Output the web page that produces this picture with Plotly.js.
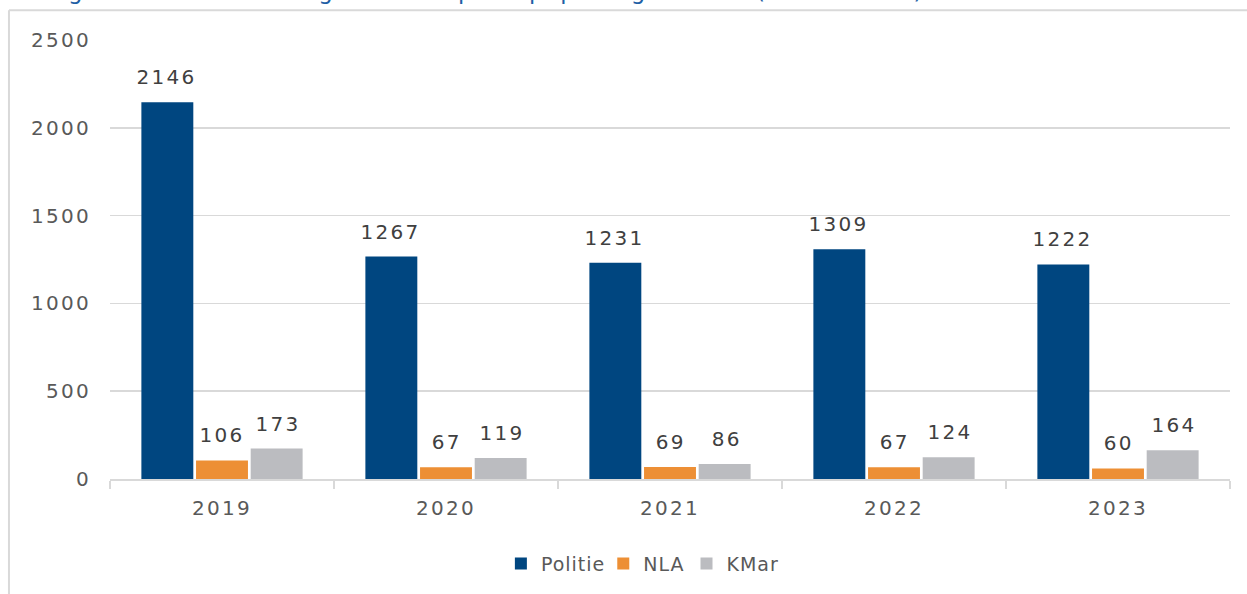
<!DOCTYPE html>
<html>
<head>
<meta charset="utf-8">
<script src="https://cdn.plot.ly/plotly-3.0.1.min.js"></script>
<style>
  html, body { margin: 0; padding: 0; background: #fff; }
  #chart { width: 1247px; height: 594px; }
  .main-svg .xtick text, .main-svg .ytick text, .main-svg .annotation-text { letter-spacing: 2.3px; }
  .main-svg .legendtext { letter-spacing: 1px; }
</style>
</head>
<body>
<div id="chart"></div>
<script>
const years = ["2019", "2020", "2021", "2022", "2023"];
const politie = [2146, 1267, 1231, 1309, 1222];
const nla = [106, 67, 69, 67, 60];
const kmar = [173, 119, 86, 124, 164];
const seriesNames = ["Politie", "NLA", "KMar"];
const seriesColors = ["#004680", "#ED8F35", "#BBBCC0"];
const titleText = "Figuur 3.2 Aantal registraties per opsporingsdienst (2019-2023)";

const allSeries = [politie, nla, kmar];
const font = "DejaVu Sans, Open Sans, sans-serif";

const traces = allSeries.map((vals, i) => ({
  type: "bar",
  name: seriesNames[i],
  x: years,
  y: vals,
  marker: { color: seriesColors[i] },
  hoverinfo: "x+y+name"
}));

const annotations = [];
allSeries.forEach((vals, i) => {
  vals.forEach((v, j) => {
    annotations.push({
      x: j, y: v, xref: "x", yref: "y",
      text: String(v), showarrow: false,
      xshift: (i - 1) * 56, yanchor: "bottom", yshift: 11,
      font: { family: font, size: 20, color: "#404040" }
    });
  });
});
annotations.push({
  xref: "paper", yref: "paper", x: 0.335, y: 1.112,
  xanchor: "center", yanchor: "middle",
  text: titleText, showarrow: false,
  font: { family: font, size: 23, color: "#1F5FA5" }
});

const layout = {
  width: 1247, height: 594,
  margin: { l: 110, r: 17, t: 40, b: 114 },
  paper_bgcolor: "#ffffff", plot_bgcolor: "#ffffff",
  barmode: "group", bargap: 0.268, bargroupgap: 0.05,
  font: { family: font, size: 19, color: "#595959" },
  xaxis: {
    type: "category", range: [-0.5, 4.5], autorange: false,
    showline: true, linecolor: "#D9D9D9", linewidth: 1.5,
    ticks: "outside", tickson: "boundaries", ticklen: 8, tickcolor: "#D9D9D9", tickwidth: 1.5,
    showgrid: false, zeroline: false, tickangle: 0,
    ticklabelstandoff: 10,
    tickfont: { family: font, size: 20, color: "#595959" }
  },
  yaxis: {
    range: [0, 2500], autorange: false, dtick: 500, tick0: 0,
    showgrid: true, gridcolor: "#D9D9D9", gridwidth: 1.5,
    zeroline: false, showline: false, ticks: "",
    ticklabelstandoff: 18,
    tickfont: { family: font, size: 20, color: "#595959" }
  },
  showlegend: true,
  legend: {
    orientation: "h", x: 0.474, xanchor: "center", y: -0.19, yanchor: "middle",
    font: { family: font, size: 19, color: "#595959" },
    traceorder: "normal"
  },
  annotations: annotations,
  shapes: [
    { type: "line", xref: "paper", yref: "paper", x0: -0.0902, x1: -0.0902, y0: 1.068, y1: -0.3,
      line: { color: "#D9D9D9", width: 2 } },
    { type: "line", xref: "paper", yref: "paper", x0: -0.0902, x1: 1.05, y0: 1.068, y1: 1.068,
      line: { color: "#D9D9D9", width: 2 } }
  ]
};

Plotly.newPlot("chart", traces, layout, { displayModeBar: false, staticPlot: true });
</script>
</body>
</html>
